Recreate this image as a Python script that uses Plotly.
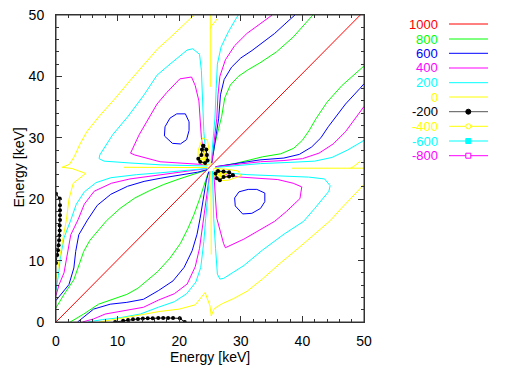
import plotly.graph_objects as go

# ---- contour levels, legend labels and colours ----
levels = [1000, 800, 600, 400, 200, 0, -200, -400, -600, -800]
level_labels = ["1000", "800", "600", "400", "200", "0", "-200", "-400", "-600", "-800"]
level_colors = ["#ff0000", "#00ff00", "#0000ff", "#ff00ff", "#00ffff",
                "#ffff00", "#000000", "#ffff00", "#00ffff", "#ff00ff"]

# ---- contour lines (upper triangle y >= x; map is symmetric about y = x) ----
# 1000 : the diagonal
c1000_x = [0, 49.4]
c1000_y = [0, 50]

# 800
c800_a_x = [0, 1.3, 2.9, 3.7, 4.5, 5.5, 6.7, 8.2, 10.4, 12.8, 15.2, 17.5, 20.0, 22.5, 24.3]
c800_a_y = [2.3, 4.5, 6.9, 9.3, 11.5, 13.3, 14.8, 16.5, 18.5, 20.2, 21.4, 22.4, 23.3, 24.1, 24.7]
c800_b_x = [25.2, 25.8, 26.4, 26.9, 27.4, 28.3, 29.6, 31.2, 33.1, 35.8, 38.5, 41.2, 41.7]
c800_b_y = [25.8, 29.0, 31.5, 33.5, 36.5, 38.6, 40.0, 41.1, 42.2, 44.0, 46.4, 49.4, 50.0]

# 600
c600_a_x = [0, 1.0, 2.1, 2.9, 3.2, 3.7, 5.1, 6.7, 8.9, 11.6, 14.3, 16.9, 20.0, 23.0, 24.5]
c600_a_y = [3.5, 4.7, 6.1, 8.8, 11.5, 14.2, 16.6, 19.0, 20.8, 22.1, 22.9, 23.4, 23.9, 24.4, 24.8]
c600_b_x = [25.3, 25.8, 26.4, 26.7, 27.3, 28.5, 30.0, 31.8, 33.1, 35.5, 38.0, 38.8]
c600_b_y = [25.9, 29.0, 33.1, 37.0, 39.5, 41.5, 43.0, 44.2, 45.2, 47.0, 49.3, 50.0]
c600_c_x = [17.6, 17.7, 18.5, 19.6, 21.0, 21.6, 21.6, 21.2, 20.2, 18.9, 17.6]
c600_c_y = [30.3, 31.8, 33.2, 33.9, 33.9, 32.6, 31.2, 29.7, 29.0, 29.1, 30.3]

# 400
c400_a_x = [0, 0.5, 1.3, 1.8, 2.4, 3.6, 4.6, 6.2, 9.0, 12.0, 15.0, 18.0, 21.0, 24.5]
c400_a_y = [4.3, 6.1, 8.0, 11.0, 14.2, 16.7, 19.2, 21.3, 22.6, 23.3, 23.7, 24.1, 24.5, 25.0]
c400_b_x = [24.6, 20.0, 16.9, 12.8, 12.1, 13.5, 15.4, 16.4, 18.0, 20.1, 22.0, 22.6, 23.2, 23.4, 23.6, 24.0, 24.6]
c400_b_y = [25.6, 25.9, 26.1, 27.2, 27.5, 30.5, 33.7, 35.5, 37.4, 39.6, 39.9, 38.5, 36.0, 33.1, 30.0, 27.5, 25.9]
c400_c_x = [25.3, 25.6, 26.1, 26.3, 26.6, 27.5, 29.0, 31.0, 33.1, 34.5, 35.1]
c400_c_y = [26.0, 29.0, 33.2, 37.0, 40.0, 42.7, 45.0, 47.0, 48.6, 49.6, 50.0]

# 200
c200_a_x = [0, 0.4, 0.7, 1.3, 2.4, 3.3, 4.6, 6.5, 8.9, 13.1, 16.9, 20.5, 24.5]
c200_a_y = [5.2, 7.6, 10.4, 13.7, 16.6, 19.2, 21.2, 22.7, 23.5, 24.0, 24.3, 24.6, 25.0]
c200_b_x = [24.6, 21.0, 16.9, 12.0, 7.8, 7.0, 7.1, 9.2, 11.7, 14.3, 16.4, 18.5, 20.1, 21.3, 22.2,
            23.3, 23.6, 23.8, 24.0, 24.3, 24.7]
c200_b_y = [25.4, 25.5, 25.6, 25.9, 26.2, 26.6, 27.2, 30.5, 33.5, 37.0, 40.2, 42.0, 43.4, 44.3, 44.5,
            43.6, 41.0, 36.0, 31.0, 27.5, 25.8]
c200_c_x = [25.2, 25.4, 25.8, 26.0, 26.2, 26.8, 28.0, 29.1, 29.6]
c200_c_y = [26.2, 29.0, 33.2, 38.0, 42.0, 44.8, 47.3, 49.2, 50.0]

# 0
c0_a_x = [0, 0.4, 0.8, 1.2, 1.7, 2.1, 2.8, 4.8, 2.6, 1.0, 2.2, 3.0, 3.8, 5.0, 7.0, 9.5,
          12.0, 14.8, 16.5, 18.5, 20.1, 22.0, 22.4]
c0_a_y = [7.0, 9.5, 11.5, 14.0, 16.7, 20.0, 22.6, 24.2, 25.0, 25.2, 25.7, 27.0, 28.8, 31.0, 33.5, 36.3,
          39.3, 42.6, 44.5, 46.3, 47.8, 49.5, 50.0]
c0_b_x = [25.05, 25.05, 25.05]
c0_b_y = [38.3, 47.8, 50.0]
c0_c_x = [25.05, 25.3, 26.2]
c0_c_y = [47.8, 48.3, 49.4]
c0_d_x = [11.0, 17.0, 24.6]
c0_d_y = [25.2, 25.2, 25.15]
c0_e_x = [23.8, 24.6, 24.9, 25.0, 24.0, 23.0, 23.1, 23.8]
c0_e_y = [30.0, 29.6, 27.5, 25.6, 25.6, 26.3, 28.0, 30.0]

# -200
cm200_a_x = [0, 0.2, 0.33, 0.43, 0.5, 0.55, 0.6, 0.6, 0.65, 0.65, 0.65, 0.65, 0.6, 0]
cm200_a_y = [9.6, 10.9, 11.7, 12.5, 13.3, 14.1, 14.9, 15.7, 16.6, 17.4, 18.2, 19.0, 20.1, 20.9]
cm200_b_x = [23.9, 24.4, 24.5, 24.6, 24.2, 23.4, 23.1, 23.6, 23.7, 23.9]
cm200_b_y = [28.7, 28.1, 27.2, 26.3, 25.9, 26.1, 26.6, 27.2, 28.1, 28.7]

# -400
cm400_a_x = [23.9, 24.2, 24.2, 23.8, 23.6, 23.9]
cm400_a_y = [27.6, 27.0, 26.5, 26.4, 26.8, 27.6]

# x/y tick values
tick_vals = [0, 10, 20, 30, 40, 50]


def join_with_mirror(segs):
    X, Y = [], []
    for xs, ys in segs:
        X += list(xs) + [None]
        Y += list(ys) + [None]
    for xs, ys in segs:           # mirrored half (swap axes)
        X += list(ys) + [None]
        Y += list(xs) + [None]
    return X, Y


fig = go.Figure()

fig.add_trace(go.Scatter(x=c1000_x, y=c1000_y, mode="lines",
                         line=dict(color=level_colors[0], width=1), hoverinfo="skip"))

line_sets = [
    (1, [(c800_a_x, c800_a_y), (c800_b_x, c800_b_y)]),
    (2, [(c600_a_x, c600_a_y), (c600_b_x, c600_b_y), (c600_c_x, c600_c_y)]),
    (3, [(c400_a_x, c400_a_y), (c400_b_x, c400_b_y), (c400_c_x, c400_c_y)]),
    (4, [(c200_a_x, c200_a_y), (c200_b_x, c200_b_y), (c200_c_x, c200_c_y)]),
    (5, [(c0_a_x, c0_a_y), (c0_b_x, c0_b_y), (c0_c_x, c0_c_y), (c0_d_x, c0_d_y), (c0_e_x, c0_e_y)]),
]
for idx, segs in line_sets:
    X, Y = join_with_mirror(segs)
    fig.add_trace(go.Scatter(x=X, y=Y, mode="lines",
                             line=dict(color=level_colors[idx], width=1), hoverinfo="skip"))

X, Y = join_with_mirror([(cm400_a_x, cm400_a_y)])
fig.add_trace(go.Scatter(x=X, y=Y, mode="lines+markers",
                         line=dict(color=level_colors[7], width=1),
                         marker=dict(color=level_colors[7], size=4, symbol="circle-open",
                                     line=dict(width=1)),
                         hoverinfo="skip"))

X, Y = join_with_mirror([(cm200_a_x, cm200_a_y), (cm200_b_x, cm200_b_y)])
fig.add_trace(go.Scatter(x=X, y=Y, mode="lines+markers",
                         line=dict(color=level_colors[6], width=1),
                         marker=dict(color="#000000", size=4, symbol="circle"),
                         hoverinfo="skip"))

# ---- layout ----
# The page body has an 8 px margin, so the figure is drawn 8 px in from the window corner.
OFF = 8
W, H = 515, 360
# target plot area in window pixels: x 56..364, y 15..322
L, T = 56 - OFF, 15 - OFF
R, B = W - (364 - OFF), H - (322 - OFF)
FONT = "Liberation Sans, Arial, sans-serif"

axis_common = dict(range=[0, 50], showgrid=False, zeroline=False, showline=True,
                   linecolor="#333333", linewidth=1, mirror="ticks",
                   ticks="inside", ticklen=6, tickwidth=1, tickcolor="#333333",
                   tickvals=tick_vals, ticktext=[str(v) for v in tick_vals],
                   tickfont=dict(family=FONT, size=14, color="#000000"),
                   ticklabeloverflow="allow",
                   minor=dict(ticks="inside", ticklen=3, tickwidth=1, tickcolor="#333333", dtick=2),
                   automargin=False)

fig.update_layout(
    width=W, height=H,
    margin=dict(l=L, r=R, t=T, b=B, pad=0),
    paper_bgcolor="white", plot_bgcolor="white",
    showlegend=False,
    xaxis=dict(**axis_common, ticklabelstandoff=6),
    yaxis=dict(**axis_common, ticklabelstandoff=8),
)

pw, ph = W - L - R, H - T - B


def px2paper(px, py):
    # window pixel -> paper coordinates
    fx, fy = px - OFF, py - OFF
    return (fx - L) / pw, (H - B - fy) / ph


annotations = []
shapes = []
# plot frame
shapes.append(dict(type="rect", xref="paper", yref="paper", x0=0, x1=1, y0=0, y1=1,
                   line=dict(color="#333333", width=1), fillcolor="rgba(0,0,0,0)", layer="above"))

ax_, ay_ = px2paper(210, 357)
annotations.append(dict(text="Energy [keV]", x=ax_, y=ay_, xref="paper", yref="paper",
                        showarrow=False, xanchor="center", yanchor="middle",
                        font=dict(family=FONT, size=14, color="#000000")))
bx_, by_ = px2paper(8.5, 168)
annotations.append(dict(text="Energy [keV]", x=bx_, y=by_, xref="paper", yref="paper",
                        showarrow=False, xanchor="left", yanchor="middle", textangle=-90,
                        font=dict(family=FONT, size=14, color="#000000")))

# gnuplot-style key
row_y = [24, 39, 53.3, 68, 82.7, 97, 111.7, 126.3, 141, 155.7]
text_right = 439.5
line_x0, line_x1, mark_x = 449, 488, 468.3
for i, lab in enumerate(level_labels):
    tx, ty = px2paper(text_right, row_y[i])
    annotations.append(dict(text=lab, x=tx, y=ty, xref="paper", yref="paper", showarrow=False,
                            xanchor="right", yanchor="middle",
                            font=dict(family=FONT, size=13, color=level_colors[i])))
    lx0, ly = px2paper(line_x0, row_y[i])
    lx1, _ = px2paper(line_x1, row_y[i])
    lc = "#555555" if i == 6 else level_colors[i]
    shapes.append(dict(type="line", xref="paper", yref="paper", x0=lx0, x1=lx1, y0=ly, y1=ly,
                       line=dict(color=lc, width=1)))
    r = 2.5
    mx0, my0 = px2paper(mark_x - r, row_y[i] + r)
    mx1, my1 = px2paper(mark_x + r, row_y[i] - r)
    if i == 6:
        shapes.append(dict(type="circle", xref="paper", yref="paper", x0=mx0, x1=mx1, y0=my0, y1=my1,
                           fillcolor="#000000", line=dict(color="#000000", width=1)))
    elif i == 7:
        shapes.append(dict(type="circle", xref="paper", yref="paper", x0=mx0, x1=mx1, y0=my0, y1=my1,
                           fillcolor="white", line=dict(color=level_colors[i], width=1)))
    elif i == 8:
        shapes.append(dict(type="rect", xref="paper", yref="paper", x0=mx0, x1=mx1, y0=my0, y1=my1,
                           fillcolor=level_colors[i], line=dict(color=level_colors[i], width=1)))
    elif i == 9:
        shapes.append(dict(type="rect", xref="paper", yref="paper", x0=mx0, x1=mx1, y0=my0, y1=my1,
                           fillcolor="white", line=dict(color=level_colors[i], width=1)))

fig.update_layout(annotations=annotations, shapes=shapes)

fig.write_html("out.html")
